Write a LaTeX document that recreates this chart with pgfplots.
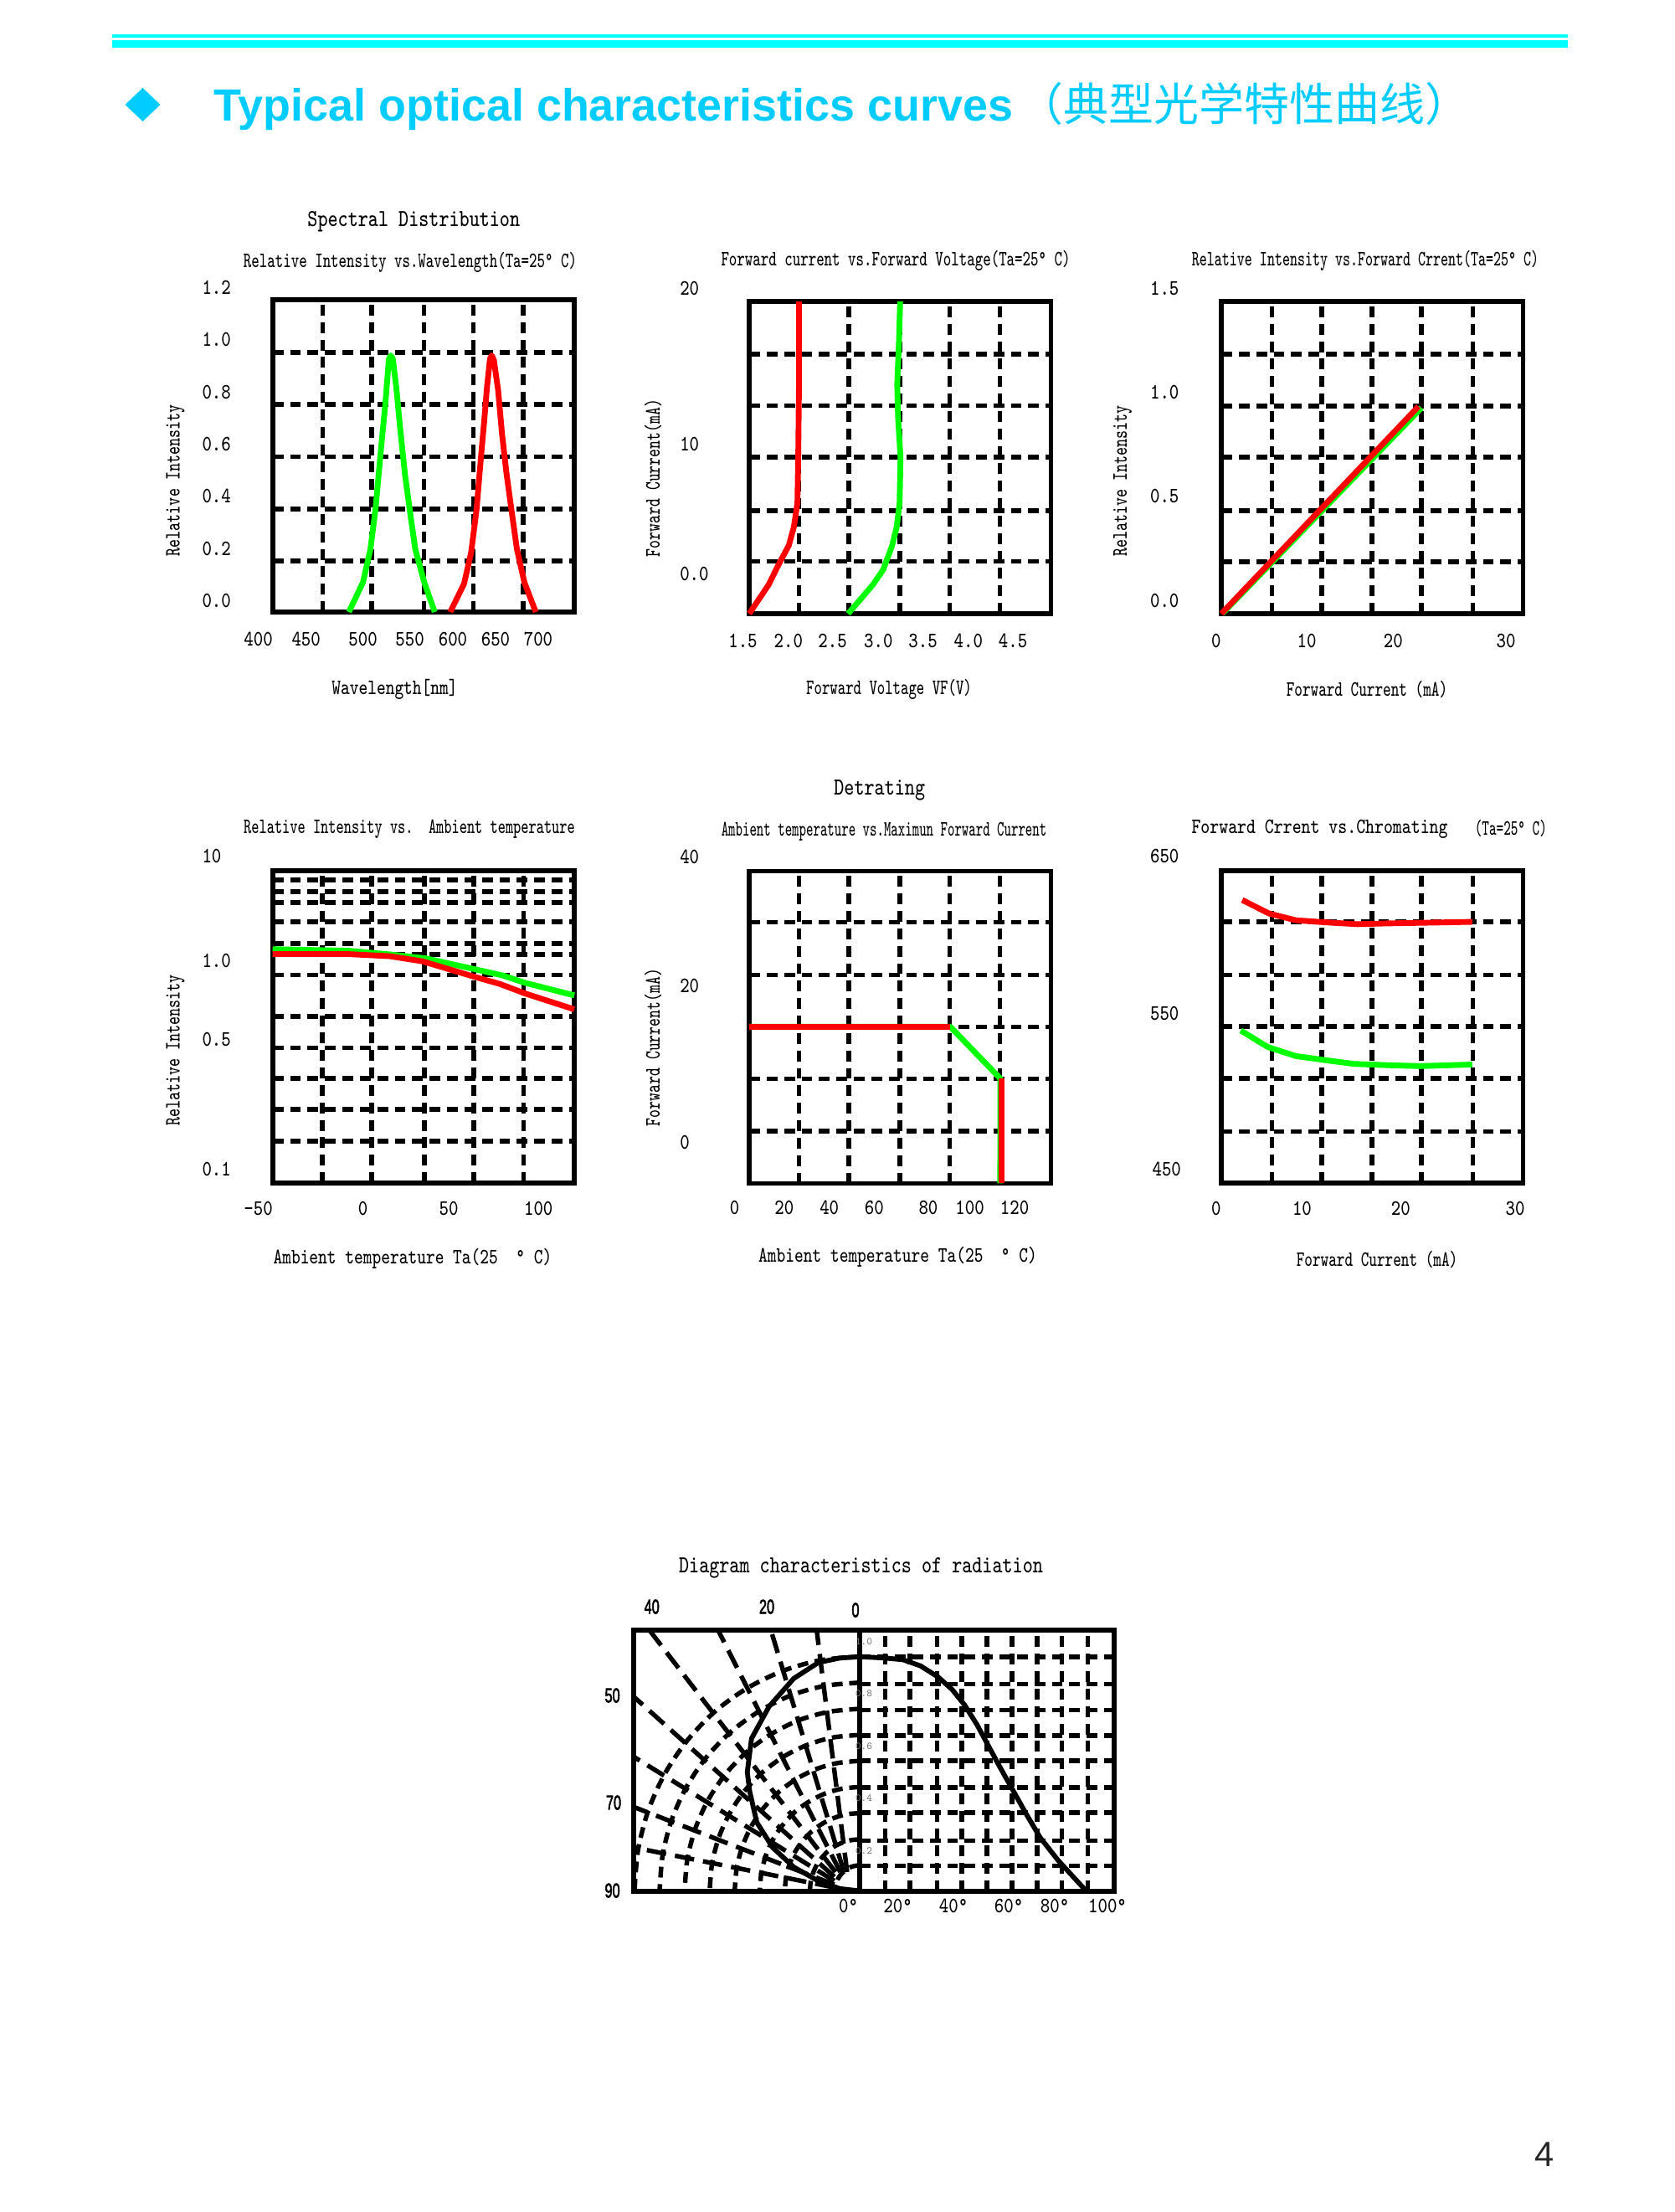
\documentclass[border=0pt]{standalone}
\usepackage{fontspec}
\usepackage{graphicx}
\usepackage{pgfplots}
\pgfplotsset{compat=1.18}
\newfontfamily\arialf{Liberation Sans}
\newfontfamily\blobf[FakeBold=3]{Liberation Sans}
\newfontfamily\cjk{Noto Sans CJK SC}
\definecolor{pgreen}{RGB}{0,255,0}
\definecolor{pred}{RGB}{255,0,0}
\definecolor{hcyan}{RGB}{0,204,255}
\definecolor{rulecyan}{RGB}{0,255,255}
\pgfplotsset{
  fr/.style={scale only axis, anchor=south west, width=86.5pt, height=89.5pt,
    axis line style={line width=1.35pt}, tick style={draw=none},
    major tick length=0pt, minor tick length=0pt,
    xticklabel=\empty, yticklabel=\empty, scaled ticks=false,
    grid=major, grid style={black,line width=1.35pt,dash pattern=on 3.1pt off 1.9pt},
    clip=false},
  g/.style={no marks, line width=1.65pt, color=pgreen, line join=round},
  r/.style={no marks, line width=1.65pt, color=pred, line join=round},
  dl/.style={no marks, black, line width=1.3pt, dash pattern=on 3.1pt off 1.9pt},
  rl/.style={no marks, black, line width=1.3pt, dash pattern=on 5.6pt off 2.6pt},
  al/.style={no marks, black, smooth, line width=1.3pt, dash pattern=on 3.1pt off 1.9pt},
}
% text helpers: x, y, horizontal scale, text
\newcommand{\T}[5][]{\node[inner sep=0pt,#1] at (#2,#3) {\scalebox{#4}[1]{\fontsize{6.3}{7}\selectfont\ttfamily #5}};}
\newcommand{\TT}[4]{\node[inner sep=0pt] at (#1,#2) {\scalebox{#3}[1]{\fontsize{7}{8}\selectfont\ttfamily #4}};}
\newcommand{\B}[3]{\node[inner sep=0pt] at (#1,#2) {\scalebox{0.85}[1.25]{\fontsize{4.6}{5}\selectfont\blobf #3}};}
\begin{document}
\begin{tikzpicture}
\path (0,0) rectangle (480pt,-634.08pt);

% ---------- Spectral distribution
\begin{axis}[fr, at={(325.7*0.24pt,-731*0.24pt)}, xmin=415, xmax=738, ymin=-0.045, ymax=1.151,
  xtick={468.5,521,577,630,683.4}, ytick={0.15,0.35,0.55,0.75,0.95}]
\addplot[g] coordinates {(496.6,-0.045)(511.7,0.069)(519.7,0.196)(525.1,0.348)(530.9,0.576)(535.7,0.754)(539.5,0.925)(541.4,0.938)(543.7,0.925)(547.5,0.811)(551.7,0.652)(556.5,0.488)(562.2,0.335)(567.7,0.196)(577.3,0.069)(588.5,-0.045)};
\addplot[r] coordinates {(605.1,-0.045)(619.9,0.063)(627.5,0.183)(633.3,0.348)(638.1,0.551)(641.3,0.678)(644.5,0.817)(647.7,0.925)(649.6,0.938)(651.9,0.919)(656.4,0.805)(660.5,0.640)(665.3,0.488)(671.1,0.335)(676.5,0.196)(684.5,0.069)(696.7,-0.045)};
\end{axis}

% ---------- Forward current vs voltage
\begin{axis}[fr, at={(895*0.24pt,-733*0.24pt)}, xmin=1.573, xmax=4.939, ymin=-2.775, ymax=19.17,
  xtick={2.128,2.686,3.251,3.809,4.370}, ytick={0.9,4.46,8.22,11.85,15.47}]
\addplot[r] coordinates {(1.573,-2.775)(1.789,-0.747)(1.889,0.534)(2.015,2.028)(2.071,3.308)(2.111,5.016)(2.121,8.858)(2.128,13.127)(2.128,19.17)};
\addplot[g] coordinates {(2.676,-2.775)(2.952,-0.747)(3.068,0.320)(3.168,2.028)(3.218,3.308)(3.251,5.016)(3.261,8.218)(3.234,10.99)(3.224,13.34)(3.244,16.33)(3.257,19.17)};
\end{axis}

% ---------- Relative intensity vs forward current
\begin{axis}[fr, at={(1459*0.24pt,-733*0.24pt)}, xmin=0.526, xmax=31.8, ymin=-0.0615, ymax=1.444,
  xtick={5.76,10.96,16.16,21.27,26.59}, ytick={0.190,0.435,0.693,0.941,1.190}]
\addplot[g] coordinates {(0.62,-0.0615)(21.27,0.931)};
\addplot[r] coordinates {(0.526,-0.0615)(20.96,0.938)};
\end{axis}

% ---------- Relative intensity vs ambient temperature
\begin{axis}[fr, at={(325.7*0.24pt,-1413*0.24pt)}, xmin=-42.3, xmax=119.2, ymode=log, ymin=0.0860, ymax=2.723,
  xtick={-15.6,10.8,38.8,65.3,92.0},
  ytick={0.1367,0.1940,0.2741,0.3836,0.5423,0.8597,1.080,1.215,1.548,1.913,2.167,2.462}]
\addplot[g] coordinates {(-42.3,1.144)(-2.0,1.125)(20.4,1.080)(39.6,1.034)(65.3,0.9194)(81.3,0.8539)(92.5,0.7900)(119.2,0.6863)};
\addplot[r] coordinates {(-42.3,1.084)(-2.0,1.084)(20.4,1.059)(38.0,1.0)(65.3,0.8453)(79.7,0.777)(92.5,0.7025)(119.2,0.5878)};
\end{axis}

% ---------- Detrating
\begin{axis}[fr, at={(895*0.24pt,-1413.4*0.24pt)}, xmin=6.4, xmax=136.1, ymin=-5.71, ymax=38.26,
  xtick={27.8,49.3,71.1,92.6,114.2}, ytick={1.64,9.04,16.35,23.65,31.05}]
\addplot[g] coordinates {(6.4,16.35)(92.85,16.35)(114.4,9.04)(114.3,-5.71)};
\addplot[r] coordinates {(6.4,16.35)(92.85,16.35)};
\addplot[r] coordinates {(114.9,9.04)(114.9,-5.71)};
\end{axis}

% ---------- Forward current vs chromaticity
\begin{axis}[fr, at={(1459*0.24pt,-1413*0.24pt)}, xmin=0.51, xmax=30.81, ymin=441.2, ymax=641.4,
  xtick={5.58,10.62,15.66,20.61,25.77}, ytick={474.3,508.4,541.5,574.6,608.7}]
\addplot[r] coordinates {(2.61,622.7)(5.31,614.0)(8.01,609.7)(11.16,608.3)(14.16,607.2)(17.16,607.7)(20.76,608.1)(25.71,608.7)};
\addplot[g] coordinates {(2.46,539.0)(5.16,528.5)(8.01,522.6)(10.86,520.1)(13.86,517.6)(17.16,516.8)(20.46,516.2)(25.71,517.2)};
\end{axis}

% ---------- Radiation diagram
\begin{axis}[scale only axis, anchor=south west, at={(756.8*0.24pt,-2259*0.24pt)}, width=137.8pt, height=74.9pt,
  xmin=-91.6, xmax=102.8, ymin=0.0449, ymax=1.0438, axis line style={line width=1.4pt},
  xtick=\empty, ytick=\empty, clip=false]
% right-hand grid
\addplot[dl] coordinates {(0,0.942)(102.8,0.942)};
\addplot[dl] coordinates {(0,0.838)(102.8,0.838)};
\addplot[dl] coordinates {(0,0.739)(102.8,0.739)};
\addplot[dl] coordinates {(0,0.640)(102.8,0.640)};
\addplot[dl] coordinates {(0,0.544)(102.8,0.544)};
\addplot[dl] coordinates {(0,0.442)(102.8,0.442)};
\addplot[dl] coordinates {(0,0.346)(102.8,0.346)};
\addplot[dl] coordinates {(0,0.239)(102.8,0.239)};
\addplot[dl] coordinates {(0,0.143)(102.8,0.143)};
\addplot[dl] coordinates {(10.26,0.0449)(10.26,1.0438)};
\addplot[dl] coordinates {(20.23,0.0449)(20.23,1.0438)};
\addplot[dl] coordinates {(31.2,0.0449)(31.2,1.0438)};
\addplot[dl] coordinates {(41.2,0.0449)(41.2,1.0438)};
\addplot[dl] coordinates {(51.3,0.0449)(51.3,1.0438)};
\addplot[dl] coordinates {(61.5,0.0449)(61.5,1.0438)};
\addplot[dl] coordinates {(71.7,0.0449)(71.7,1.0438)};
\addplot[dl] coordinates {(81.7,0.0449)(81.7,1.0438)};
\addplot[dl] coordinates {(92.2,0.0449)(92.2,1.0438)};
% left-hand arcs
\addplot[al] coordinates {(0,.145)(-1.76,.143)(-3.47,.139)(-5.07,.131)(-6.51,.121)(-7.76,.109)(-8.78,.095)(-9.52,.079)(-9.98,.062)(-10.13,.045)};
\addplot[al] coordinates {(0,.244)(-3.52,.241)(-6.93,.232)(-10.13,.218)(-13.03,.198)(-15.52,.173)(-17.55,.145)(-19.04,.113)(-19.96,.080)(-20.27,.045)};
\addplot[al] coordinates {(0,.344)(-5.28,.340)(-10.40,.326)(-15.20,.304)(-19.54,.274)(-23.29,.237)(-26.33,.195)(-28.57,.147)(-29.94,.097)(-30.40,.045)};
\addplot[al] coordinates {(0,.444)(-7.04,.438)(-13.86,.420)(-20.27,.390)(-26.05,.351)(-31.05,.301)(-35.10,.245)(-38.09,.181)(-39.92,.114)(-40.53,.045)};
\addplot[al] coordinates {(0,.544)(-8.80,.536)(-17.33,.514)(-25.34,.477)(-32.57,.427)(-38.81,.366)(-43.88,.295)(-47.61,.216)(-49.90,.132)(-50.67,.045)};
\addplot[al] coordinates {(0,.643)(-10.55,.634)(-20.80,.607)(-30.40,.563)(-39.08,.503)(-46.57,.430)(-52.65,.344)(-57.13,.250)(-59.87,.149)(-60.80,.045)};
\addplot[al] coordinates {(0,.743)(-12.31,.732)(-24.26,.701)(-35.47,.649)(-45.59,.580)(-54.33,.494)(-61.43,.394)(-66.65,.284)(-69.85,.166)(-70.93,.045)};
\addplot[al] coordinates {(0,.843)(-14.07,.831)(-27.73,.795)(-40.54,.735)(-52.10,.656)(-62.10,.558)(-70.20,.444)(-76.18,.318)(-79.83,.183)(-81.06,.045)};
\addplot[al] coordinates {(0,.942)(-15.83,.929)(-31.19,.888)(-45.60,.822)(-58.62,.733)(-69.86,.622)(-78.98,.494)(-85.70,.352)(-89.81,.201)(-91.20,.045)};
% left-hand radial lines
\addplot[rl] coordinates {(-5.20,0.119)(-17.52,1.0438)};
\addplot[rl] coordinates {(-6.49,0.119)(-36.04,1.0438)};
\addplot[rl] coordinates {(-7.99,0.119)(-57.41,1.0438)};
\addplot[rl] coordinates {(-9.93,0.119)(-85.19,1.0438)};
\addplot[rl] coordinates {(-10.38,0.101)(-91.6,0.790)};
\addplot[rl] coordinates {(-10.38,0.085)(-91.6,0.560)};
\addplot[rl] coordinates {(-10.38,0.071)(-91.6,0.368)};
\addplot[rl] coordinates {(-10.38,0.060)(-91.6,0.213)};
% divider
\addplot[no marks, black, line width=1.4pt] coordinates {(0,0.0449)(0,1.0438)};
% pattern curve
\addplot[no marks, black, line width=1.4pt, line join=round] coordinates {(-0.43,0.047)(-8.26,0.0556)(-16.81,0.0844)(-26.78,0.1378)(-35.33,0.2126)(-41.74,0.3088)(-44.59,0.4263)(-45.58,0.5011)(-43.87,0.6293)(-36.75,0.7521)(-26.78,0.8590)(-16.81,0.9199)(-8.26,0.9370)(0,0.9423)(10.26,0.9370)(17.38,0.9306)(24.50,0.9071)(31.62,0.8643)(37.32,0.8162)(42.31,0.7575)(47.29,0.6827)(51.57,0.6079)(55.84,0.5331)(61.54,0.4370)(67.24,0.3408)(72.93,0.25)(80.06,0.1645)(85.75,0.1058)(91.45,0.047)};
\end{axis}

\begin{scope}[x=0.24pt,y=-0.24pt]
% header
\fill[rulecyan] (134,41.5) rectangle (1873,45);
\fill[rulecyan] (134,47.7) rectangle (1873,57.3);
\fill[hcyan] (149.5,125) -- (170.5,105) -- (191.5,125) -- (170.5,145) -- cycle;
\node[anchor=base west,inner sep=0pt,text=hcyan] at (255,144) {\fontsize{12.93}{15}\selectfont\arialf\bfseries Typical optical characteristics curves};
\node[anchor=base west,inner sep=0pt,text=hcyan] at (1216,144) {\fontsize{12.95}{15}\selectfont\cjk （典型光学特性曲线）};
\node[inner sep=0pt,text=black!85] at (1845,2573) {\fontsize{10}{12}\selectfont\arialf 4};

% chart 1 text
\TT{494.3}{265}{.78}{Spectral Distribution}
\T{490}{313.5}{.68}{Relative Intensity vs.Wavelength(Ta=25° C)}
\T[anchor=west]{240.7}{343.8}{.82}{1.2}
\T[anchor=west]{240.7}{405.9}{.82}{1.0}
\T[anchor=west]{240.7}{468.3}{.82}{0.8}
\T[anchor=west]{240.7}{530.4}{.82}{0.6}
\T[anchor=west]{240.7}{592}{.82}{0.4}
\T[anchor=west]{240.7}{655.3}{.82}{0.2}
\T[anchor=west]{240.7}{717}{.82}{0.0}
\T{308.6}{763.5}{.82}{400}
\T{365.7}{763.5}{.82}{450}
\T{433.6}{763.5}{.82}{500}
\T{489.6}{763.5}{.82}{550}
\T{541}{763.5}{.82}{600}
\T{592}{763.5}{.82}{650}
\T{643}{763.5}{.82}{700}
\T[rotate=90]{209.5}{573.9}{.72}{Relative Intensity}
\T{471.5}{823.5}{.77}{Wavelength[nm]}

% chart 2 text
\T{1070}{311}{.68}{Forward current vs.Forward Voltage(Ta=25° C)}
\T[anchor=west]{811.4}{344.7}{.82}{20}
\T[anchor=west]{811.4}{530.2}{.82}{10}
\T[anchor=west]{811.4}{685.5}{.82}{0.0}
\T{887.5}{765.5}{.82}{1.5}
\T{941.8}{765.5}{.82}{2.0}
\T{994.6}{765.5}{.82}{2.5}
\T{1049.3}{765.5}{.82}{3.0}
\T{1102.5}{765.5}{.82}{3.5}
\T{1156.8}{765.5}{.82}{4.0}
\T{1210}{765.5}{.82}{4.5}
\T[rotate=90]{780}{571}{.71}{Forward Current(mA)}
\T{1062}{823.6}{.675}{Forward Voltage VF(V)}

% chart 3 text
\T{1631}{311}{.646}{Relative Intensity vs.Forward Crrent(Ta=25° C)}
\T[anchor=west]{1373.2}{344.7}{.82}{1.5}
\T[anchor=west]{1373.2}{468}{.82}{1.0}
\T[anchor=west]{1373.2}{592.7}{.82}{0.5}
\T[anchor=west]{1373.2}{717.5}{.82}{0.0}
\T{1452.9}{765.5}{.82}{0}
\T{1561}{765.5}{.82}{10}
\T{1664.3}{765.5}{.82}{20}
\T{1799}{765.5}{.82}{30}
\T[rotate=90]{1341}{574.5}{.72}{Relative Intensity}
\T{1632.9}{823.6}{.69}{Forward Current (mA)}

% chart 4 text
\T{489}{990.5}{.66}{Relative Intensity vs.\ \ Ambient temperature}
\T[anchor=west]{240.7}{1022.9}{.82}{10}
\T[anchor=west]{240.7}{1147.3}{.82}{1.0}
\T[anchor=west]{240.7}{1241}{.82}{0.5}
\T[anchor=west]{240.7}{1396.4}{.82}{0.1}
\T{308.6}{1443.6}{.82}{-50}
\T{433.6}{1443.6}{.82}{0}
\T{536}{1443.6}{.82}{50}
\T{643.2}{1443.6}{.82}{100}
\T[rotate=90]{209.5}{1254.5}{.72}{Relative Intensity}
\T{492.9}{1503}{.77}{Ambient temperature Ta(25\ \ ° C)}

% chart 5 text
\TT{1050.7}{944}{.78}{Detrating}
\T{1056}{993.5}{.606}{Ambient temperature vs.Maximun Forward Current}
\T[anchor=west]{811.4}{1023.5}{.82}{40}
\T[anchor=west]{811.4}{1177.6}{.82}{20}
\T[anchor=west]{811.4}{1364.7}{.82}{0}
\T{877.5}{1442}{.82}{0}
\T{936.8}{1442}{.82}{20}
\T{990.7}{1442}{.82}{40}
\T{1044.3}{1442}{.82}{60}
\T{1108.9}{1442}{.82}{80}
\T{1158.6}{1442}{.82}{100}
\T{1212.1}{1442}{.82}{120}
\T[rotate=90]{780}{1251}{.71}{Forward Current(mA)}
\T{1072.5}{1501}{.77}{Ambient temperature Ta(25\ \ ° C)}

% chart 6 text
\T{1576.5}{990}{.784}{Forward Crrent vs.Chromating}
\T{1804.8}{989.5}{.617}{(Ta=25° C)}
\T[anchor=west]{1373.2}{1022.9}{.82}{650}
\T[anchor=west]{1373.2}{1210.2}{.82}{550}
\T[anchor=west]{1375.7}{1396.4}{.82}{450}
\T{1452.9}{1443.6}{.82}{0}
\T{1555.4}{1443.6}{.82}{10}
\T{1673.2}{1443.6}{.82}{20}
\T{1810}{1443.6}{.82}{30}
\T{1645}{1504}{.69}{Forward Current (mA)}

% chart 7 text
\TT{1028.5}{1873}{.78}{Diagram characteristics of radiation}
\T{1013.5}{2276}{.82}{0°}
\T{1072.5}{2276}{.82}{20°}
\T{1139}{2276}{.82}{40°}
\T{1205}{2276}{.82}{60°}
\T{1260}{2276}{.82}{80°}
\T{1323}{2276}{.82}{100°}
\B{778.7}{1919}{40}
\B{916}{1919}{20}
\B{1022}{1923}{0}
\B{731.6}{2025}{50}
\B{733}{2153}{70}
\B{731.6}{2258}{90}
\node[inner sep=0pt,text=black!55] at (1032,1961) {\fontsize{3}{4}\selectfont\ttfamily 1.0};
\node[inner sep=0pt,text=black!55] at (1032,2023) {\fontsize{3}{4}\selectfont\ttfamily 0.8};
\node[inner sep=0pt,text=black!55] at (1032,2086) {\fontsize{3}{4}\selectfont\ttfamily 0.6};
\node[inner sep=0pt,text=black!55] at (1032,2148) {\fontsize{3}{4}\selectfont\ttfamily 0.4};
\node[inner sep=0pt,text=black!55] at (1032,2211) {\fontsize{3}{4}\selectfont\ttfamily 0.2};
\end{scope}
\end{tikzpicture}
\end{document}
